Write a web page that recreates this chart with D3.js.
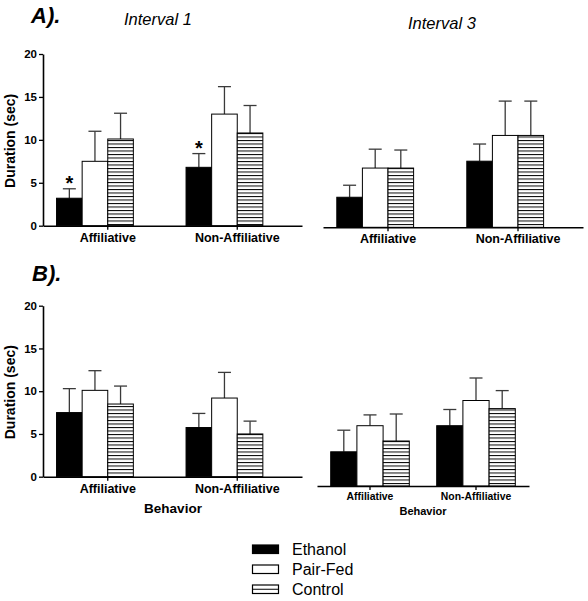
<!DOCTYPE html>
<html><head><meta charset="utf-8">
<script src="https://cdn.jsdelivr.net/npm/d3@7"></script>
<style>
body{margin:0;background:#fff}
svg{display:block}
text{font-family:Arial,"Liberation Sans",sans-serif}
</style>
</head><body>
<svg id="chart" width="588" height="601"></svg>
<script>
// ---- data ----
const categories = ["Affiliative", "Non-Affiliative"];
const series = ["Ethanol", "Pair-Fed", "Control"];
const yTicks = [0, 5, 10, 15, 20];
// Panel A, Interval 1 (mean, SEM) per category x series
const a1Mean = [[3.2, 7.5, 10.1], [6.8, 13.0, 10.8]];
const a1Sem  = [[1.1, 3.5, 3.0], [1.6, 3.2, 3.2]];
const a1Sig  = [[true, false, false], [true, false, false]];
// Panel A, Interval 3
const a3Mean = [[3.5, 6.9, 6.9], [7.7, 10.7, 10.7]];
const a3Sem  = [[1.4, 2.2, 2.1], [2.0, 4.0, 4.0]];
// Panel B, left
const b1Mean = [[7.5, 10.1, 8.5], [5.75, 9.2, 5.0]];
const b1Sem  = [[2.8, 2.3, 2.1], [1.65, 3.0, 1.5]];
// Panel B, right
const b3Mean = [[3.8, 6.7, 5.0], [6.7, 9.5, 8.6]];
const b3Sem  = [[2.4, 1.2, 3.0], [1.8, 2.5, 2.0]];

const svg = d3.select("#chart");

// stripe pattern for Control
const defs = svg.append("defs");
const pat = defs.append("pattern").attr("id", "stripes")
  .attr("patternUnits", "userSpaceOnUse").attr("width", 8).attr("height", 3.5);
pat.append("rect").attr("width", 8).attr("height", 3.5).attr("fill", "#fff");
pat.append("line").attr("x1", 0).attr("x2", 8).attr("y1", 0.5).attr("y2", 0.5)
  .attr("stroke", "#000").attr("stroke-width", 1);

const fills = {"Ethanol": "#000", "Pair-Fed": "#fff", "Control": "url(#stripes)"};

const panels = [
  {mean: a1Mean, sem: a1Sem, sig: a1Sig, xr: [43, 302], yr: [225.7, 54], yAxis: true, barW: 25.6, start: -2, lab: 12.5},
  {mean: a3Mean, sem: a3Sem, xr: [323, 583], yr: [227.3, 55.6], yAxis: false, barW: 25.6, start: -2, lab: 12.5},
  {mean: b1Mean, sem: b1Sem, xr: [43, 302], yr: [476.7, 305.7], yAxis: true, barW: 25.6, start: -2, lab: 12.5},
  {mean: b3Mean, sem: b3Sem, xr: [317, 529], yr: [486, 306], yAxis: false, barW: 26.2, start: -1.5, lab: 10.4}
];

panels.forEach(p => {
  const x = d3.scaleBand().domain(categories).range(p.xr);
  const y = d3.scaleLinear().domain([0, 20]).range(p.yr);
  const xs = d3.scaleBand().domain(series)
    .range([p.start * p.barW, (p.start + 3) * p.barW]);
  const g = svg.append("g");

  const rows = [];
  categories.forEach((c, i) => series.forEach((s, j) => {
    rows.push({c, s, v: p.mean[i][j], e: p.sem[i][j], sig: p.sig ? p.sig[i][j] : false});
  }));
  const cx = d => x(d.c) + x.bandwidth() / 2 + xs(d.s);

  // error bars (upper only)
  const eb = g.selectAll(".eb").data(rows).join("g")
    .attr("stroke", "#3a3a3a").attr("stroke-width", 1.3);
  eb.append("line")
    .attr("x1", d => cx(d) + xs.bandwidth() / 2).attr("x2", d => cx(d) + xs.bandwidth() / 2)
    .attr("y1", d => y(d.v)).attr("y2", d => y(d.v + d.e));
  eb.append("line")
    .attr("x1", d => cx(d) + xs.bandwidth() / 2 - 6.5).attr("x2", d => cx(d) + xs.bandwidth() / 2 + 6.5)
    .attr("y1", d => y(d.v + d.e)).attr("y2", d => y(d.v + d.e));

  // bars
  g.selectAll(".bar").data(rows).join("rect")
    .attr("x", d => cx(d)).attr("width", xs.bandwidth())
    .attr("y", d => y(d.v)).attr("height", d => y(0) - y(d.v))
    .attr("fill", d => fills[d.s]).attr("stroke", "#000").attr("stroke-width", 1);

  // significance asterisks
  g.selectAll(".sig").data(rows.filter(d => d.sig)).join("text")
    .attr("x", d => cx(d) + xs.bandwidth() / 2)
    .attr("y", d => y(d.v + d.e) + 1)
    .attr("text-anchor", "middle").attr("font-size", 20).attr("font-weight", "bold")
    .text("*");

  // x axis
  const xa = g.append("g").attr("transform", `translate(0,${p.yr[0]})`)
    .call(d3.axisBottom(x).tickSize(4).tickSizeOuter(0).tickPadding(3));
  xa.select(".domain").attr("stroke", "#000").attr("stroke-width", 1.6);
  xa.selectAll(".tick line").attr("stroke", "#000").attr("stroke-width", 1.3);
  xa.selectAll("text").attr("font-size", p.lab).attr("font-weight", "bold")
    .attr("font-family", "Arial, 'Liberation Sans', sans-serif").attr("fill", "#000");

  if (p.yAxis) {
    const ya = g.append("g").attr("transform", `translate(${p.xr[0]},0)`)
      .call(d3.axisLeft(y).tickValues(yTicks).tickSize(4).tickSizeOuter(0).tickPadding(2));
    ya.select(".domain").attr("stroke", "#000").attr("stroke-width", 1.6);
    ya.selectAll(".tick line").attr("stroke", "#000").attr("stroke-width", 1.3);
    ya.selectAll("text").attr("font-size", 11.5).attr("font-weight", "bold")
      .attr("font-family", "Arial, 'Liberation Sans', sans-serif").attr("fill", "#000");
    svg.append("text")
      .attr("transform", `translate(14.5,${(p.yr[0] + p.yr[1]) / 2 + 1}) rotate(-90)`)
      .attr("text-anchor", "middle").attr("font-size", 14).attr("font-weight", "bold")
      .text("Duration (sec)");
  }
});

// titles
svg.append("text").attr("x", 31).attr("y", 23).attr("font-size", 22)
  .attr("font-weight", "bold").attr("font-style", "italic").text("A).");
svg.append("text").attr("x", 124).attr("y", 25).attr("font-size", 16.5)
  .attr("font-style", "italic").text("Interval 1");
svg.append("text").attr("x", 408).attr("y", 29).attr("font-size", 16.5)
  .attr("font-style", "italic").text("Interval 3");
svg.append("text").attr("x", 32).attr("y", 281).attr("font-size", 22)
  .attr("font-weight", "bold").attr("font-style", "italic").text("B).");
svg.append("text").attr("x", 173).attr("y", 513).attr("text-anchor", "middle")
  .attr("font-size", 13.5).attr("font-weight", "bold").text("Behavior");
svg.append("text").attr("x", 423).attr("y", 515).attr("text-anchor", "middle")
  .attr("font-size", 11).attr("font-weight", "bold").text("Behavior");

// legend
const leg = svg.append("g");
series.forEach((s, i) => {
  const yy = 545 + i * 20;
  leg.append("rect").attr("x", 252.5).attr("y", yy).attr("width", 26).attr("height", 8.5)
    .attr("fill", s === "Ethanol" ? "#000" : "#fff").attr("stroke", "#000").attr("stroke-width", 1.2);
  if (s === "Control") {
    leg.append("line").attr("x1", 252.5).attr("x2", 278.5).attr("y1", yy + 4.25).attr("y2", yy + 4.25)
      .attr("stroke", "#000").attr("stroke-width", 1);
  }
  leg.append("text").attr("x", 292).attr("y", yy + 9.5).attr("font-size", 16).text(s);
});
</script>
</body></html>
